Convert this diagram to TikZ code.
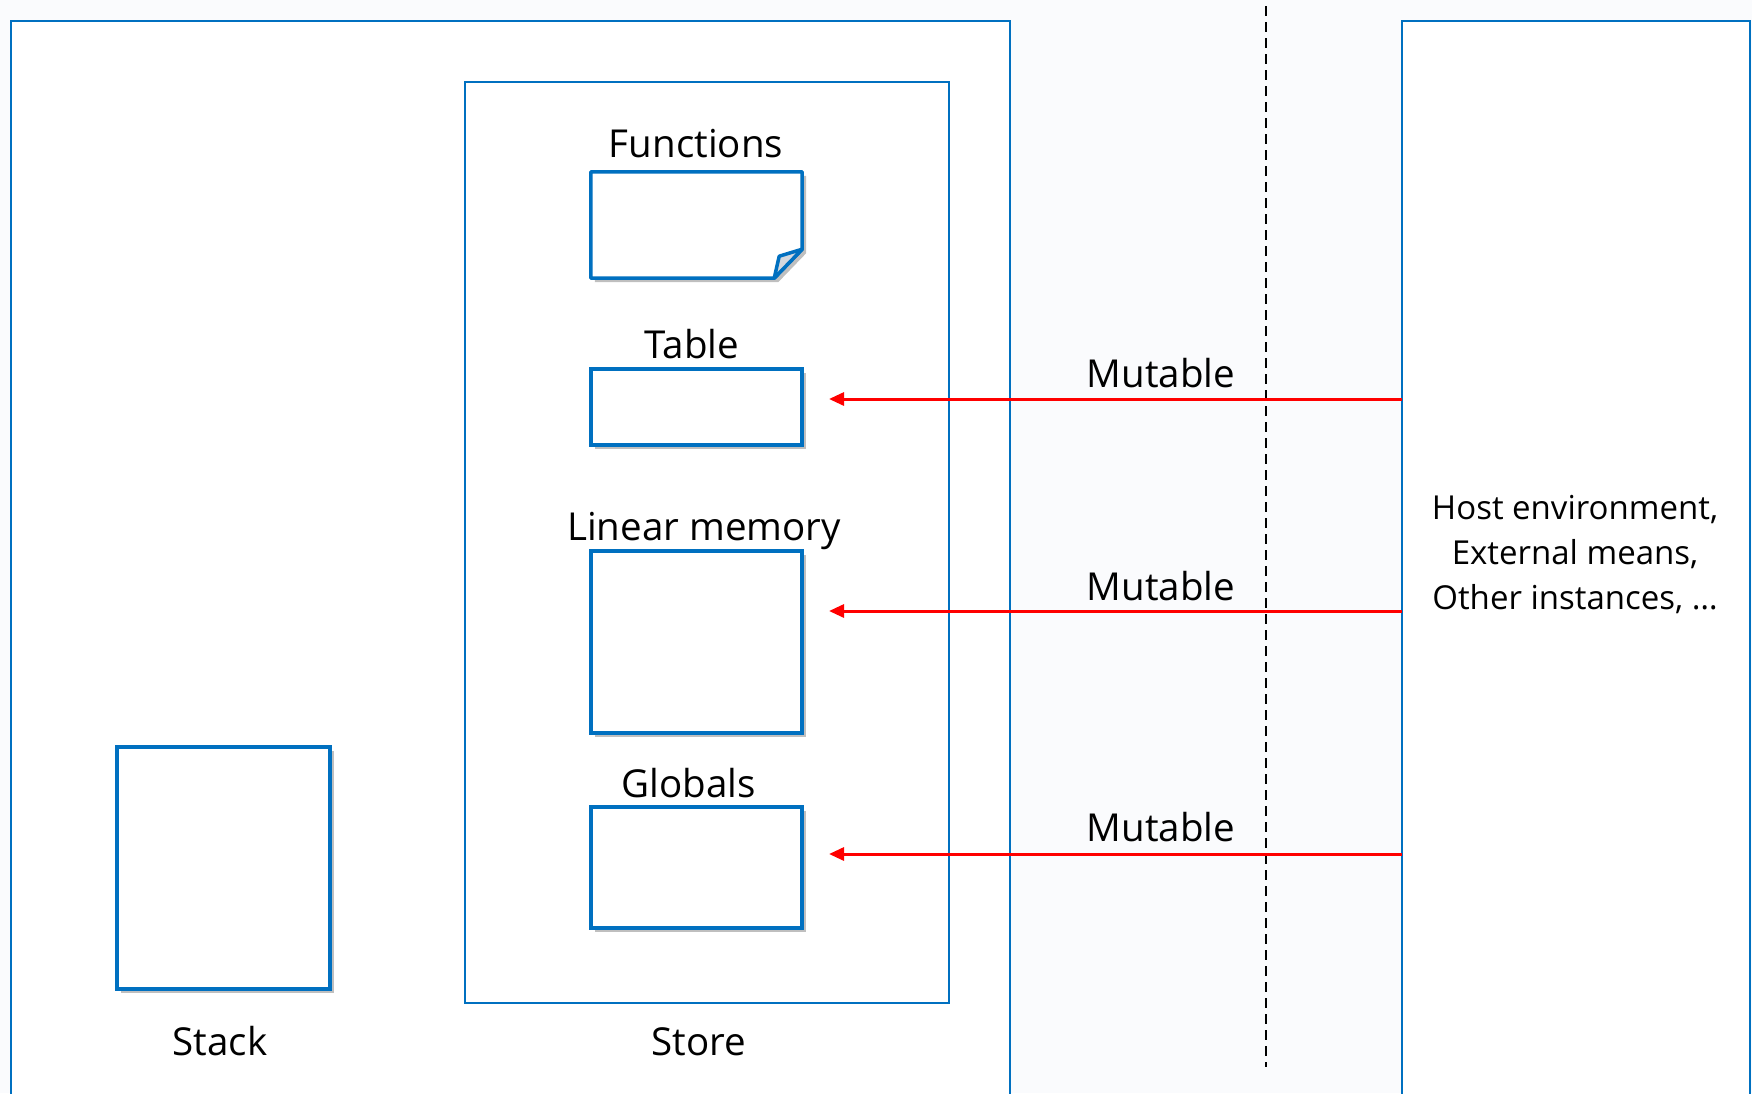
\documentclass[tikz,border=0pt]{standalone}
\usepackage{fontspec}
\setmainfont{Open Sans}
\usetikzlibrary{arrows.meta,shadows}
\definecolor{bg}{HTML}{FAFBFD}
\definecolor{boxblue}{HTML}{0070C0}
\definecolor{arrred}{HTML}{FF0000}
\definecolor{foldgray}{HTML}{D3D8DE}
\tikzset{
  bigbox/.style={draw=boxblue, line width=2.4pt, fill=white},
  storebox/.style={draw=boxblue, line width=2.4pt},
  membox/.style={draw=boxblue, line width=3.5pt, fill=white, inner sep=0pt,
    drop shadow={shadow xshift=4pt, shadow yshift=-4pt, opacity=0.25, fill=black}},
  lbl/.style={font=\fontsize{38.5}{45}\selectfont, anchor=base, inner sep=0pt},
  hostlbl/.style={font=\fontsize{33}{45}\selectfont, align=center, inner sep=0pt},
  arr/.style={draw=arrred, line width=3pt, -{Triangle[length=15pt,width=13pt]}},
  divider/.style={draw=black, line width=1.8pt, dash pattern=on 10pt off 6pt}
}
\begin{document}
\begin{tikzpicture}[x=1pt,y=-1pt]
\useasboundingbox (0,0) rectangle (1752,1093);
\clip (0,0) rectangle (1752,1093);
\fill[bg] (0,0) rectangle (1752,1093);
% big panels
\path[bigbox] (11,1100) -- (11,21) -- (1010,21) -- (1010,1100);
\path[bigbox] (1402,1100) -- (1402,21) -- (1750,21) -- (1750,1100);
% divider
\draw[divider] (1266,6) -- (1266,1067);
% store
\node[storebox, minimum width=484pt, minimum height=921pt] (store) at (707,542.5) {};
% functions (folded corner)
\node[minimum width=211pt, minimum height=106pt, inner sep=0pt] (fun) at (696.5,225) {};
\path[draw=boxblue, line width=3.5pt, fill=white, line join=round,
      drop shadow={shadow xshift=4pt, shadow yshift=-4pt, opacity=0.25, fill=black}]
  (fun.north west) -- (fun.north east) -- ([yshift=29pt]fun.south east)
  -- ([xshift=-28pt]fun.south east) -- (fun.south west) -- cycle;
\path[draw=boxblue, line width=3.5pt, fill=foldgray, line join=round]
  ([yshift=29pt]fun.south east) -- ([xshift=-23pt,yshift=22pt]fun.south east)
  -- ([xshift=-28pt]fun.south east) -- cycle;
% memory boxes
\node[membox, minimum width=211pt, minimum height=76pt] (table) at (696.5,407) {};
\node[membox, minimum width=211pt, minimum height=182pt] (linmem) at (696.5,642) {};
\node[membox, minimum width=211pt, minimum height=121pt] (globals) at (696.5,867.5) {};
\node[membox, minimum width=213pt, minimum height=242pt] (stack) at (223.5,868) {};
% labels
\node[lbl] (lfun) at (696,157) {Functions};
\node[lbl] (ltable) at (692,358) {Table};
\node[lbl] (llin) at (704,540) {Linear memory};
\node[lbl] (lglob) at (689,797) {Globals};
\node[lbl] (lstack) at (220,1055) {Stack};
\node[lbl] (lstore) at (699,1055) {Store};
% host text
\node[hostlbl] (host) at (1575,555) {Host environment,\\External means,\\Other instances, …};
% arrows
\coordinate (h1) at (1402,399);
\coordinate (h2) at (1402,611);
\coordinate (h3) at (1402,854);
\coordinate (t1) at (829,399);
\coordinate (t2) at (829,611);
\coordinate (t3) at (829,854);
\draw[arr] (h1) -- (t1);
\draw[arr] (h2) -- (t2);
\draw[arr] (h3) -- (t3);
\node[lbl] (m1) at (1161,387) {Mutable};
\node[lbl] (m2) at (1161,600) {Mutable};
\node[lbl] (m3) at (1161,841) {Mutable};
\end{tikzpicture}
\end{document}
